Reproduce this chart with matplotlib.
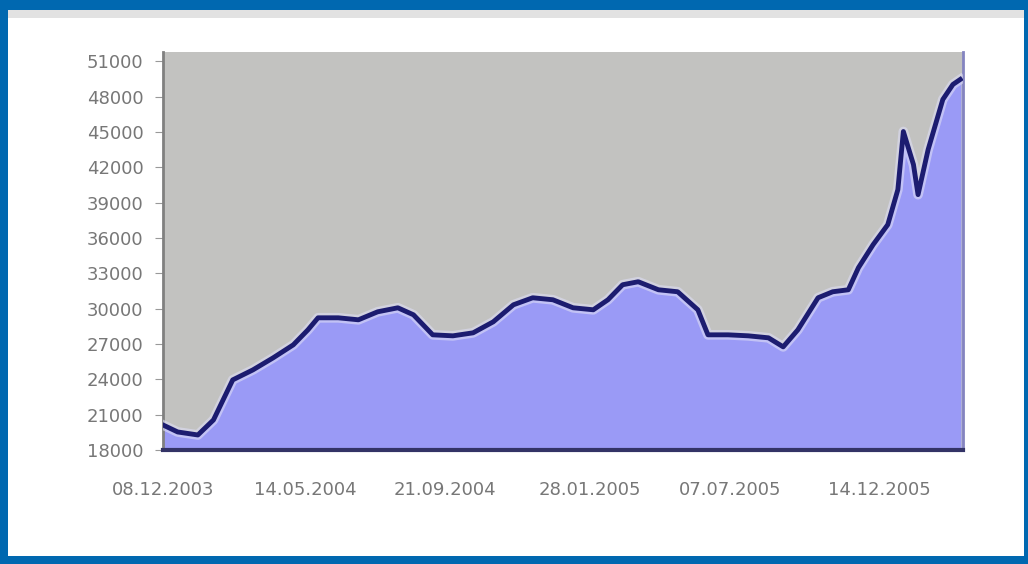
import matplotlib
matplotlib.use("Agg")
import matplotlib.pyplot as plt
from matplotlib.patches import Rectangle

# days since 08.12.2003 and index level
days = [0, 16, 38, 55, 76, 98, 120, 142, 158, 169, 191, 213, 234, 256, 273, 294, 316, 338, 360, 382,
        403, 425, 447, 469, 485, 501, 518, 540, 561, 583, 594, 616, 638, 660, 676, 692, 714, 730, 747, 758,
        774, 790, 801, 807, 818, 823, 834, 850, 861, 869]
values = [20126, 19531, 19276, 20552, 23954, 24804, 25825, 26930, 28206, 29227, 29227, 29057, 29737, 30077,
          29482, 27781, 27696, 27951, 28887, 30333, 30928, 30758, 30077, 29907, 30758, 32034, 32289, 31608,
          31438, 29907, 27781, 27781, 27696, 27526, 26760, 28206, 30928, 31438, 31608, 33479, 35436, 37137,
          40113, 45046, 42240, 39688, 43515, 47768, 49044, 49469]

tick_days = [0, 155, 307, 465, 618, 781]
tick_labels = ["08.12.2003", "14.05.2004", "21.09.2004", "28.01.2005", "07.07.2005", "14.12.2005"]
y_ticks = [18000, 21000, 24000, 27000, 30000, 33000, 36000, 39000, 42000, 45000, 48000, 51000]

fig = plt.figure(figsize=(10.28, 5.64), dpi=100)
fig.patch.set_facecolor("#0068b0")
fig.patches.append(Rectangle((8/1028, 8/564), 1016/1028, 546/564, transform=fig.transFigure,
                             facecolor="white", edgecolor="none", zorder=-5))
fig.patches.append(Rectangle((8/1028, 546/564), 1016/1028, 8/564, transform=fig.transFigure,
                             facecolor="#e2e2e2", edgecolor="none", zorder=-4))

ax = fig.add_axes([163/1028, 114/564, 800/1028, 398/564])
ax.set_zorder(2)
ax.set_facecolor("#c2c2c0")
ax.fill_between(days, values, 18000, color="#9a9af6", zorder=2)
ax.plot(days, values, color="#ddddf5", lw=7, zorder=3, alpha=0.6)
ax.plot(days, values, color="#1c1c70", lw=3.5, zorder=4)

ax.set_xlim(0, 872)
ax.set_ylim(18000, 51800)
ax.set_yticks(y_ticks)
ax.set_yticklabels([str(v) for v in y_ticks])
ax.set_xticks(tick_days)
ax.set_xticklabels(tick_labels)
ax.tick_params(axis="y", length=6, pad=8, color="#999999", labelsize=13, labelcolor="#777777")
ax.tick_params(axis="x", length=0, pad=22, labelsize=13, labelcolor="#777777")
ax.spines["top"].set_visible(False)
ax.spines["right"].set_color("#8484c0")
ax.spines["right"].set_linewidth(2)
ax.spines["left"].set_color("#808080")
ax.spines["left"].set_linewidth(2)
ax.spines["bottom"].set_color("#333366")
ax.spines["bottom"].set_linewidth(3)

fig.savefig("out.png", dpi=100, facecolor=fig.get_facecolor())
